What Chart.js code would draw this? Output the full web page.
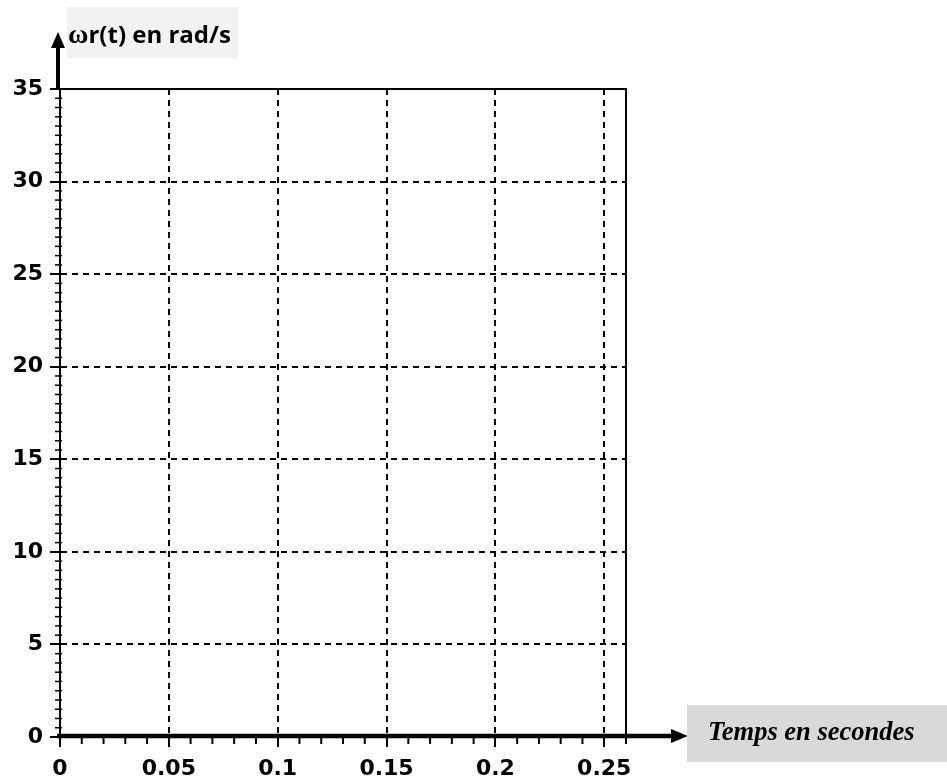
<!DOCTYPE html>
<html>
<head>
<meta charset="utf-8">
<script src="https://cdn.jsdelivr.net/npm/chart.js@4.4.1/dist/chart.umd.min.js"></script>
<style>
  html, body { margin: 0; padding: 0; background: #ffffff; }
  #wrap { width: 947px; height: 781px; position: relative; }
</style>
</head>
<body>
<div id="wrap"><canvas id="c"></canvas></div>
<script>
// ---- data (empty response grid, axes only) ----
const xTicks = [0, 0.05, 0.1, 0.15, 0.2, 0.25];
const yTicks = [0, 5, 10, 15, 20, 25, 30, 35];
const xRange = [0, 0.26];
const yRange = [0, 35];
const xMinorStep = 0.01;
const yMinorStep = 0.5;
const seriesT = [];      // no curve drawn in the reference
const seriesOmega = [];
const yTitle = ['ω', 'r(t) en rad/s'];
const xTitle = 'Temps en secondes';

const points = seriesT.map((t, i) => ({ x: t, y: seriesOmega[i] }));

const decor = {
  id: 'decor',
  afterDraw(chart) {
    const ctx = chart.ctx;
    const xs = chart.scales.x, ys = chart.scales.y;
    const a = chart.chartArea;
    const x0 = xs.getPixelForValue(0);
    const y0 = ys.getPixelForValue(0);
    ctx.save();
    ctx.strokeStyle = '#000';
    ctx.fillStyle = '#000';
    ctx.setLineDash([]);

    // frame top & right
    ctx.lineWidth = 2;
    ctx.beginPath();
    ctx.moveTo(a.left, a.top);
    ctx.lineTo(a.right, a.top);
    ctx.lineTo(a.right, a.bottom);
    ctx.stroke();

    // minor ticks on y (crossing the axis)
    ctx.lineWidth = 1.5;
    for (let k = 1; k * yMinorStep < yRange[1]; k++) {
      const v = k * yMinorStep;
      if (Math.abs(v / 5 - Math.round(v / 5)) < 1e-9) continue;
      const py = ys.getPixelForValue(v);
      ctx.beginPath();
      ctx.moveTo(x0 - 5, py);
      ctx.lineTo(x0 + 2, py);
      ctx.stroke();
    }
    // minor ticks on x (below the axis)
    ctx.lineWidth = 2;
    for (let k = 1; k * xMinorStep <= xRange[1] + 1e-9; k++) {
      const v = k * xMinorStep;
      if (Math.abs(v / 0.05 - Math.round(v / 0.05)) < 1e-6) continue;
      const px = xs.getPixelForValue(v);
      ctx.beginPath();
      ctx.moveTo(px, y0);
      ctx.lineTo(px, y0 + 7);
      ctx.stroke();
    }

    // thick x axis with arrow
    ctx.lineWidth = 4.5;
    ctx.beginPath();
    ctx.moveTo(x0 - 3, y0 - 1);
    ctx.lineTo(673, y0 - 1);
    ctx.stroke();
    ctx.beginPath();
    ctx.moveTo(688, y0 - 1);
    ctx.lineTo(671, y0 - 8);
    ctx.lineTo(671, y0 + 6);
    ctx.closePath();
    ctx.fill();

    // y axis shaft + arrow above the top
    ctx.lineWidth = 4;
    ctx.beginPath();
    ctx.moveTo(x0 - 2, a.top);
    ctx.lineTo(x0 - 2, 46);
    ctx.stroke();
    ctx.beginPath();
    ctx.moveTo(x0 - 2, 32);
    ctx.lineTo(x0 - 9, 48);
    ctx.lineTo(x0 + 5, 48);
    ctx.closePath();
    ctx.fill();

    // y title box
    ctx.fillStyle = '#f2f2f2';
    ctx.fillRect(67, 7, 171, 51);
    ctx.fillStyle = '#000';
    ctx.textBaseline = 'alphabetic';
    ctx.textAlign = 'left';
    ctx.font = 'bold 28px "Liberation Serif"';
    ctx.fillText(yTitle[0], 68, 43);
    const wOm = ctx.measureText(yTitle[0]).width;
    ctx.font = 'bold 24px "Open Sans"';
    ctx.fillText(yTitle[1], 68 + wOm, 43);

    // x title box
    ctx.fillStyle = '#d9d9d9';
    ctx.fillRect(687, 705, 260, 57);
    ctx.fillStyle = '#000';
    ctx.font = 'italic bold 26.5px "Liberation Serif"';
    ctx.fillText(xTitle, 708, 740);
    ctx.restore();
  }
};

const gridCol = (vals, edge) => (c) => {
  const v = c.tick ? c.tick.value : null;
  if (v === null) return 'rgba(0,0,0,0)';
  if (edge.some(e => Math.abs(e - v) < 1e-9)) return 'rgba(0,0,0,0)';
  return '#000';
};

new Chart(document.getElementById('c'), {
  type: 'scatter',
  data: {
    datasets: [{
      label: 'ωr(t)',
      data: points,
      borderColor: '#000',
      showLine: true,
      pointRadius: 0
    }]
  },
  options: {
    responsive: true,
    maintainAspectRatio: false,
    animation: false,
    events: [],
    layout: { padding: { left: 0, top: 89, right: 321, bottom: 0 } },
    plugins: { legend: { display: false }, tooltip: { enabled: false } },
    scales: {
      x: {
        type: 'linear',
        min: xRange[0],
        max: xRange[1],
        afterBuildTicks: (ax) => { ax.ticks = xTicks.map(v => ({ value: v })); },
        afterFit: (ax) => { ax.height = 44; },
        ticks: {
          autoSkip: false,
          maxRotation: 0,
          padding: 9,
          color: '#000',
          font: { family: '"DejaVu Sans"', size: 22, weight: 'bold' },
          callback: (v) => String(v)
        },
        grid: {
          color: gridCol(xTicks, [0, 0.26]),
          lineWidth: 2,
          tickLength: 10,
          tickColor: '#000',
          tickWidth: 2,
          tickBorderDash: []
        },
        border: { display: false, dash: [6, 5] }
      },
      y: {
        type: 'linear',
        min: yRange[0],
        max: yRange[1],
        afterBuildTicks: (ax) => { ax.ticks = yTicks.map(v => ({ value: v })); },
        afterFit: (ax) => { ax.width = 60; },
        ticks: {
          autoSkip: false,
          padding: 7,
          color: '#000',
          font: { family: '"DejaVu Sans"', size: 22, weight: 'bold' },
          callback: (v) => String(v)
        },
        grid: {
          color: gridCol(yTicks, [0, 35]),
          lineWidth: 2,
          tickLength: 10,
          tickColor: '#000',
          tickWidth: 2,
          tickBorderDash: []
        },
        border: { display: true, color: '#000', width: 2, dash: [6, 5] }
      }
    }
  },
  plugins: [decor]
});
</script>
</body>
</html>
